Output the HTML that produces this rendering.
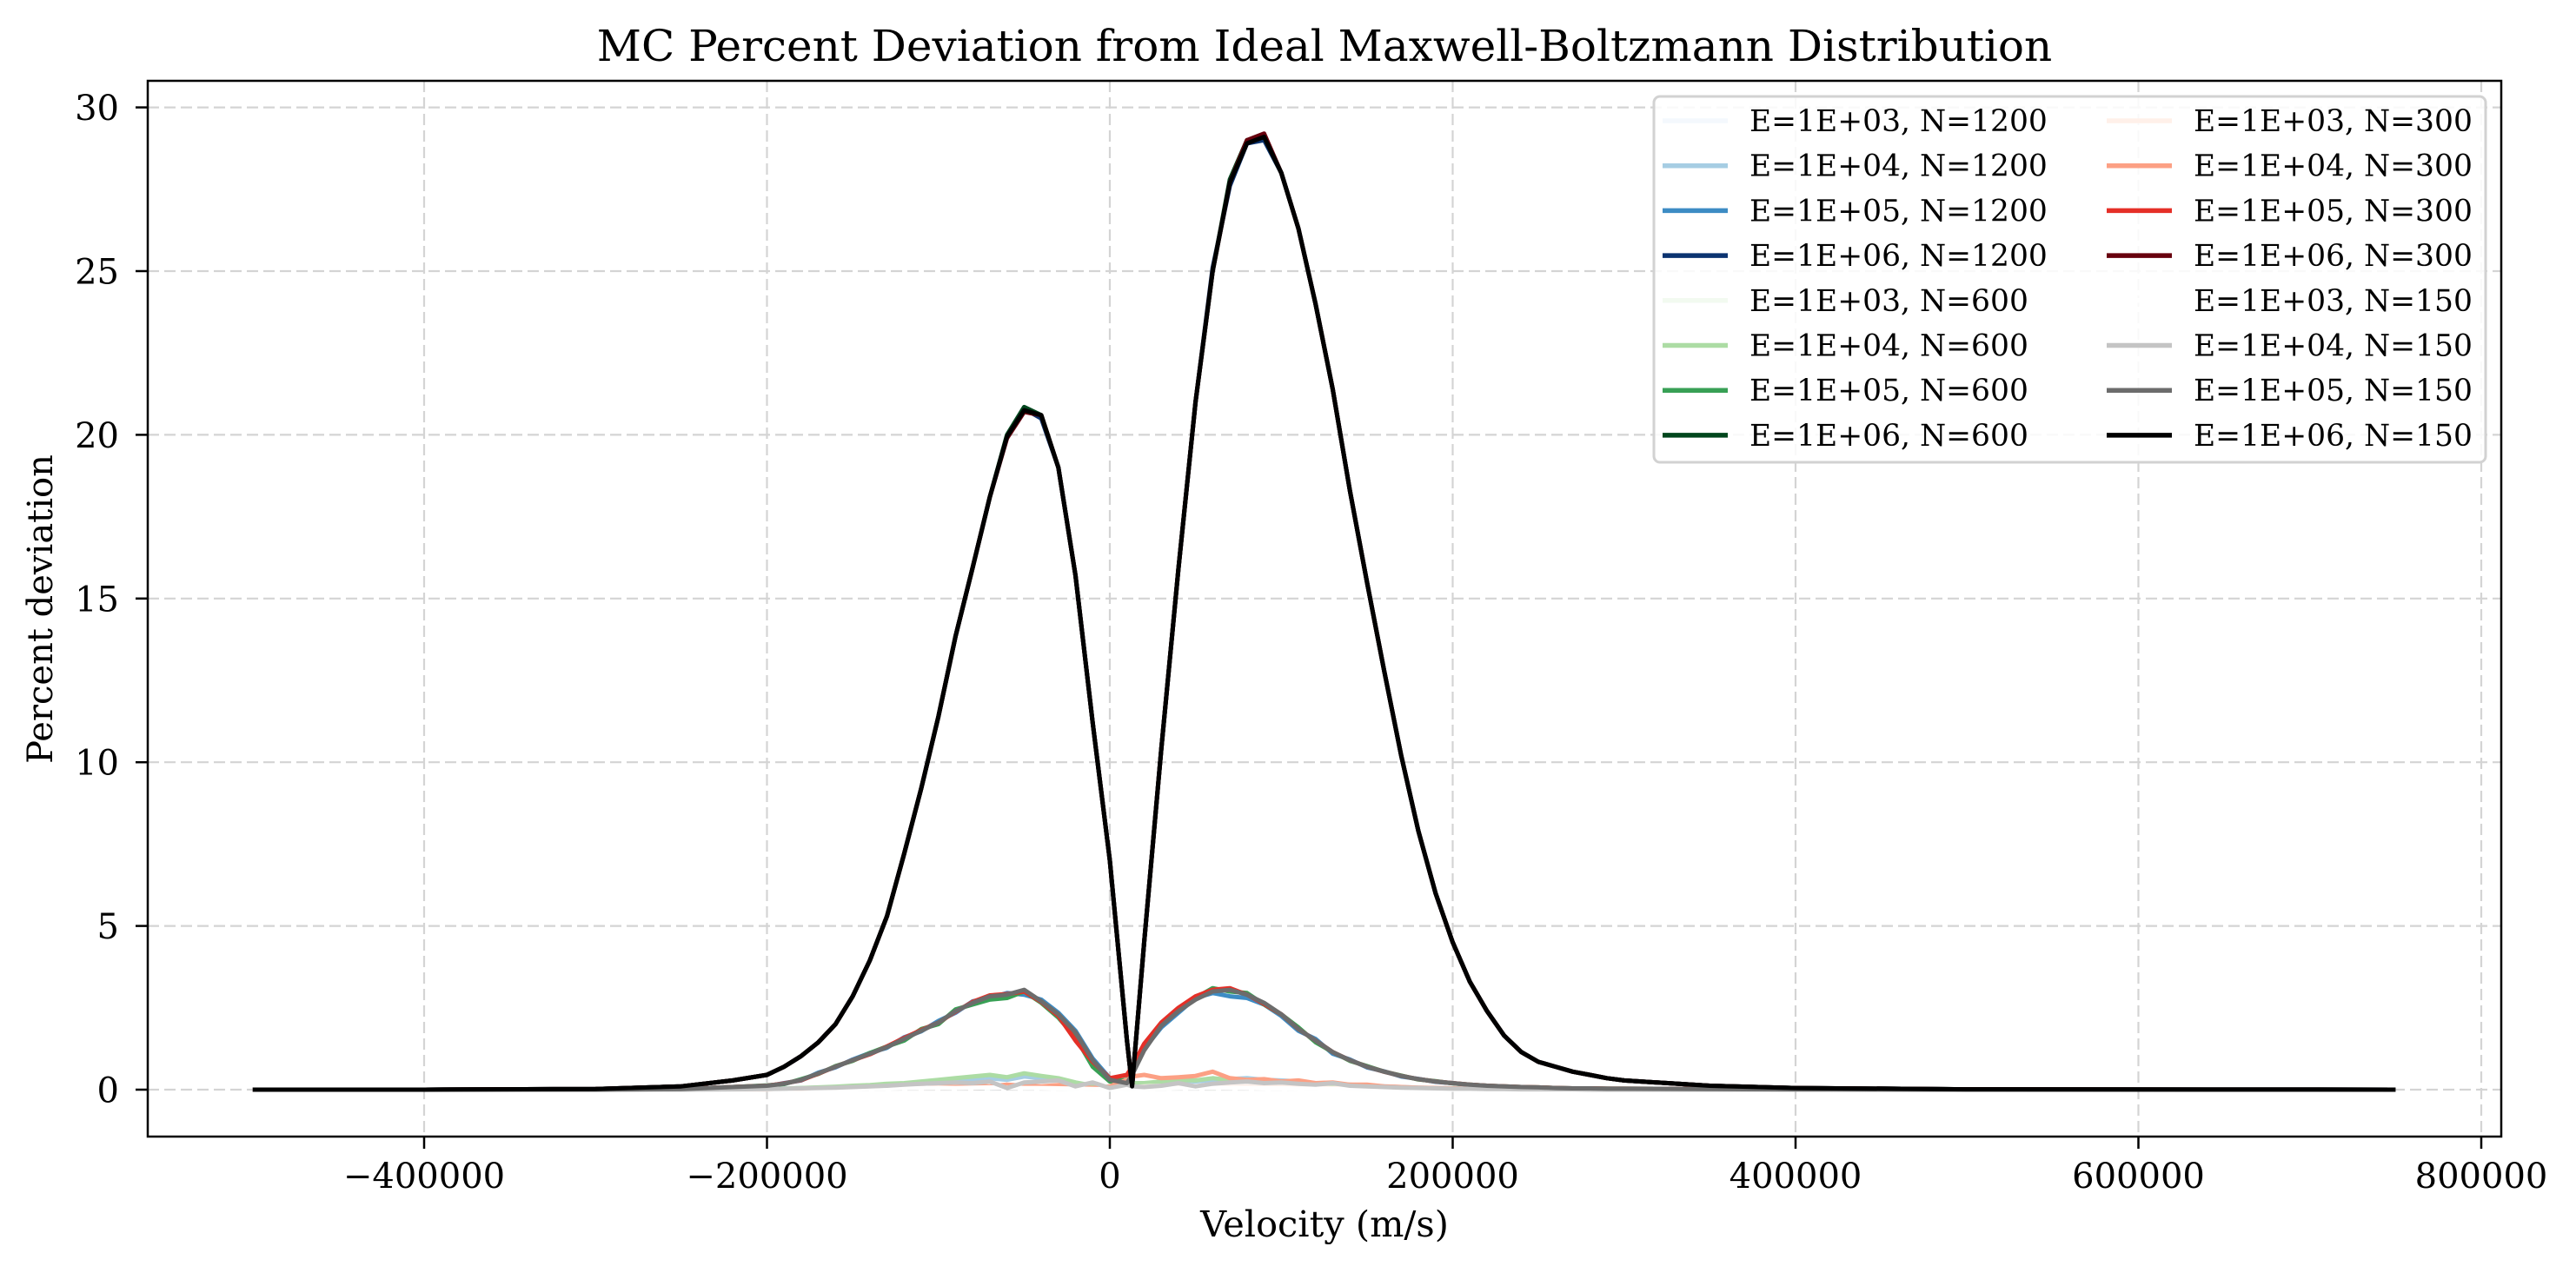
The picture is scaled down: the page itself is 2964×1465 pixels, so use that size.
<!DOCTYPE html>
<html><head><meta charset="utf-8">
<style>
html,body{margin:0;padding:0;background:#fff;}
svg{display:block;font-family:"DejaVu Serif","Liberation Serif",serif;}
</style></head>
<body>
<svg id="chart" width="2964" height="1465" viewBox="0 0 2964 1465" xmlns="http://www.w3.org/2000/svg">
<rect x="0" y="0" width="2964" height="1465" fill="#fff"/>
<g id="grid"></g>
<g id="series" clip-path="url(#plotclip)"></g>
<g id="axes"></g>
<g id="legend"></g>
<defs><clipPath id="plotclip"><rect x="170" y="93" width="2708" height="1215"/></clipPath></defs>
<text x="1524" y="70" text-anchor="middle" font-size="50" fill="#000">MC Percent Deviation from Ideal Maxwell-Boltzmann Distribution</text>
<text x="1524" y="1423" text-anchor="middle" font-size="41.5" fill="#000">Velocity (m/s)</text>
<text x="0" y="0" transform="translate(60,701) rotate(-90)" text-anchor="middle" font-size="40" fill="#000">Percent deviation</text>
</svg>
<script>
const velocities = [-500000,-400000,-300000,-250000,-220000,
-200000,-190000,-180000,-170000,-160000,-150000,-140000,-130000,-120000,-110000,-100000,-90000,-80000,-70000,-60000,-50000,-40000,-30000,-20000,-10000,0,
10000,13000,
20000,30000,40000,50000,60000,70000,80000,90000,100000,110000,120000,130000,140000,150000,160000,170000,180000,190000,200000,210000,220000,230000,240000,250000,260000,270000,280000,290000,300000,
350000,400000,500000,750000];
const xTicks = [-400000,-200000,0,200000,400000,600000,800000];
const xTickLabels = ["\u2212400000","\u2212200000","0","200000","400000","600000","800000"];
const yTicks = [0,5,10,15,20,25,30];
const yTickLabels = ["0","5","10","15","20","25","30"];
const seriesLabels = ["E=1E+03, N=1200","E=1E+04, N=1200","E=1E+05, N=1200","E=1E+06, N=1200",
"E=1E+03, N=600","E=1E+04, N=600","E=1E+05, N=600","E=1E+06, N=600",
"E=1E+03, N=300","E=1E+04, N=300","E=1E+05, N=300","E=1E+06, N=300",
"E=1E+03, N=150","E=1E+04, N=150","E=1E+05, N=150","E=1E+06, N=150"];
const seriesColors = ["#f4f8fd","#a6cde3","#3d8cc4","#0b3370",
"#f2faf0","#acdca4","#38a055","#01461d",
"#fff0e9","#fca084","#e52f27","#67000d",
"#ffffff","#c4c4c4","#6c6c6c","#000000"];

const e3n1200 = [0,0,0,0,0.01, 0.01,0.02,0.02,0.03,0.03,0.04,0.05,0.04,0.06,0.05,0.07,0.06,0.08,0.05,0.07,0.06,0.05,0.04,0.03,0.02,0.01, 0.02,0.03, 0.04,0.05,0.06,0.05,0.07,0.06,0.05,0.06,0.05,0.04,0.04,0.03,0.03,0.02,0.02,0.02,0.01,0.01,0.01,0.01,0,0,0,0,0,0,0,0,0, 0,0,0,0];
const e4n1200 = [0,0,0,0,0.01, 0.02,0.03,0.05,0.06,0.08,0.1,0.12,0.15,0.18,0.22,0.25,0.3,0.28,0.35,0.3,0.4,0.35,0.3,0.2,0.1,0.03, 0.05,0.1, 0.15,0.2,0.28,0.25,0.3,0.32,0.35,0.3,0.28,0.25,0.2,0.18,0.15,0.12,0.1,0.08,0.06,0.05,0.04,0.03,0.02,0.02,0.01,0.01,0.01,0,0,0,0, 0,0,0,0];
const e5n1200 = [0,0,0,0.02,0.08, 0.1,0.2,0.28,0.52,0.68,0.92,1.12,1.28,1.6,1.78,2.1,2.35,2.7,2.8,2.95,2.9,2.75,2.35,1.8,0.95,0.35, 0.25,0.5, 1.25,1.9,2.35,2.8,2.95,2.85,2.8,2.6,2.25,1.8,1.55,1.1,0.92,0.68,0.56,0.4,0.33,0.24,0.2,0.14,0.12,0.09,0.08,0.06,0.05,0.04,0.03,0.03,0.02, 0.02,0.01,0,0];
const e6n1200 = [0,0,0.02,0.1,0.28, 0.45,0.7,1.03,1.45,2.0,2.85,3.95,5.3,7.2,9.2,11.4,13.85,15.95,18.1,19.95,20.8,20.5,19.0,15.7,11.2,7.0, 1.5,0.1, 4.5,10.4,15.9,21.0,25.1,27.6,28.9,29.0,28.0,26.3,24.0,21.4,18.3,15.5,12.8,10.2,7.9,6.0,4.5,3.3,2.4,1.65,1.15,0.85,0.7,0.55,0.45,0.35,0.28, 0.12,0.05,0.01,0];
const e3n600 = [0,0,0,0,0.01, 0.01,0.01,0.02,0.03,0.04,0.03,0.05,0.06,0.05,0.07,0.06,0.08,0.07,0.06,0.08,0.05,0.06,0.04,0.03,0.02,0.01, 0.02,0.02, 0.03,0.04,0.05,0.06,0.05,0.06,0.07,0.05,0.04,0.05,0.03,0.03,0.02,0.02,0.02,0.01,0.01,0.01,0.01,0,0,0,0,0,0,0,0,0,0, 0,0,0,0];
const e4n600 = [0,0,0,0,0.01, 0.02,0.03,0.05,0.07,0.09,0.12,0.14,0.18,0.2,0.25,0.3,0.35,0.4,0.45,0.38,0.5,0.42,0.35,0.22,0.12,0.05, 0.15,0.2, 0.2,0.25,0.3,0.28,0.35,0.3,0.3,0.28,0.25,0.22,0.18,0.15,0.12,0.1,0.08,0.06,0.05,0.04,0.03,0.02,0.02,0.01,0.01,0.01,0,0,0,0,0, 0,0,0,0];
const e5n600 = [0,0,0,0.02,0.08, 0.13,0.17,0.32,0.48,0.72,0.88,1.12,1.32,1.5,1.85,2.0,2.45,2.6,2.75,2.8,3.0,2.65,2.2,1.6,0.7,0.25, 0.3,0.55, 1.3,2.0,2.45,2.8,3.1,3.0,2.95,2.6,2.3,1.9,1.45,1.15,0.88,0.72,0.55,0.43,0.31,0.26,0.19,0.15,0.12,0.1,0.08,0.07,0.05,0.04,0.04,0.03,0.03, 0.02,0.01,0,0];
const e6n600 = [0,0,0.02,0.1,0.28, 0.45,0.7,1.03,1.45,2.0,2.85,3.95,5.3,7.2,9.2,11.4,13.85,15.95,18.1,20.0,20.85,20.6,19.0,15.7,11.2,7.0, 1.5,0.1, 4.5,10.4,15.9,21.0,25.0,27.8,29.0,29.1,28.0,26.3,24.0,21.4,18.3,15.5,12.8,10.2,7.9,6.0,4.5,3.3,2.4,1.65,1.15,0.85,0.7,0.55,0.45,0.35,0.28, 0.12,0.05,0.01,0];
const e3n300 = [0,0,0,0,0.01, 0.01,0.02,0.02,0.03,0.03,0.04,0.04,0.05,0.06,0.05,0.06,0.07,0.06,0.08,0.07,0.06,0.05,0.05,0.04,0.03,0.02, 0.05,0.08, 0.1,0.12,0.1,0.09,0.11,0.08,0.1,0.07,0.08,0.06,0.05,0.05,0.04,0.03,0.03,0.02,0.02,0.01,0.01,0.01,0,0,0,0,0,0,0,0,0, 0,0,0,0];
const e4n300 = [0,0,0,0,0.01, 0.01,0.02,0.02,0.03,0.04,0.05,0.04,0.06,0.08,0.07,0.1,0.08,0.12,0.1,0.15,0.12,0.1,0.14,0.1,0.05,0.1, 0.3,0.4, 0.45,0.35,0.38,0.42,0.55,0.35,0.3,0.32,0.25,0.28,0.2,0.22,0.15,0.15,0.1,0.08,0.06,0.05,0.04,0.03,0.02,0.02,0.01,0.01,0.01,0,0,0,0, 0,0,0,0];
const e5n300 = [0,0,0,0.02,0.08, 0.12,0.19,0.29,0.49,0.7,0.9,1.08,1.32,1.58,1.82,2.05,2.38,2.68,2.88,2.92,3.0,2.68,2.25,1.5,0.85,0.35, 0.45,0.7, 1.4,2.05,2.5,2.85,3.05,3.1,2.9,2.62,2.3,1.85,1.5,1.15,0.9,0.7,0.55,0.42,0.32,0.25,0.2,0.15,0.12,0.1,0.08,0.07,0.05,0.04,0.04,0.03,0.03, 0.02,0.01,0,0];
const e6n300 = [0,0,0.02,0.1,0.28, 0.45,0.7,1.03,1.45,2.0,2.85,3.95,5.3,7.2,9.2,11.4,13.85,15.95,18.1,19.9,20.7,20.6,19.0,15.7,11.2,7.0, 1.5,0.1, 4.5,10.4,15.9,21.0,25.0,27.7,29.0,29.2,28.0,26.3,24.0,21.4,18.3,15.5,12.8,10.2,7.9,6.0,4.5,3.3,2.4,1.65,1.15,0.85,0.7,0.55,0.45,0.35,0.28, 0.12,0.05,0.01,0];
const e3n150 = [0,0,0,0,0, 0.01,0.01,0.02,0.02,0.03,0.03,0.04,0.04,0.05,0.05,0.06,0.05,0.06,0.07,0.06,0.05,0.05,0.04,0.03,0.02,0.01, 0.02,0.02, 0.03,0.04,0.05,0.05,0.06,0.05,0.05,0.04,0.04,0.03,0.03,0.02,0.02,0.02,0.01,0.01,0.01,0,0,0,0,0,0,0,0,0,0,0,0, 0,0,0,0];
const e4n150 = [0,0,0,0,0.01, 0.02,0.03,0.04,0.05,0.06,0.08,0.1,0.12,0.15,0.18,0.2,0.22,0.2,0.25,0.05,0.22,0.25,0.28,0.1,0.22,0.05, 0.15,0.1, 0.08,0.12,0.2,0.1,0.18,0.22,0.25,0.2,0.22,0.18,0.15,0.2,0.12,0.1,0.08,0.06,0.05,0.04,0.03,0.03,0.02,0.02,0.01,0.01,0.01,0.01,0,0,0, 0,0,0,0];
const e5n150 = [0,0,0,0.02,0.08, 0.12,0.18,0.3,0.5,0.7,0.9,1.1,1.3,1.55,1.8,2.05,2.4,2.65,2.85,2.9,3.05,2.7,2.3,1.75,0.9,0.3, 0.2,0.45, 1.2,1.95,2.4,2.75,3.0,3.05,2.9,2.65,2.3,1.85,1.5,1.15,0.9,0.7,0.55,0.42,0.32,0.25,0.2,0.15,0.12,0.1,0.08,0.07,0.05,0.04,0.04,0.03,0.03, 0.02,0.01,0,0];
const e6n150 = [0,0,0.02,0.1,0.28, 0.45,0.7,1.03,1.45,2.0,2.85,3.95,5.3,7.2,9.2,11.4,13.85,15.95,18.1,19.95,20.75,20.6,19.0,15.7,11.2,7.0, 1.5,0.1, 4.5,10.4,15.9,21.0,25.0,27.7,28.9,29.1,28.0,26.3,24.0,21.4,18.3,15.5,12.8,10.2,7.9,6.0,4.5,3.3,2.4,1.65,1.15,0.85,0.7,0.55,0.45,0.35,0.28, 0.12,0.05,0.01,0];

const seriesValues = [e3n1200,e4n1200,e5n1200,e6n1200,e3n600,e4n600,e5n600,e6n600,e3n300,e4n300,e5n300,e6n300,e3n150,e4n150,e5n150,e6n150];

const NS = "http://www.w3.org/2000/svg";
const PL = 170, PR = 2878, PT = 93, PB = 1308;
const X0 = 1277, XPER = 394.5 / 200000;
const Y0 = 1254, YPER = 37.68;
function xScale(v){ return X0 + v * XPER; }
function yScale(v){ return Y0 - v * YPER; }
function mk(tag, attrs, parent){
  const el = document.createElementNS(NS, tag);
  for (const k in attrs) el.setAttribute(k, attrs[k]);
  parent.appendChild(el);
  return el;
}
const grid = document.getElementById('grid');
const axes = document.getElementById('axes');
const seriesG = document.getElementById('series');
const legend = document.getElementById('legend');

xTicks.forEach((t, i) => {
  const x = xScale(t);
  const gl = mk('line', {x1:x, y1:PT, x2:x, y2:PB, stroke:'#d4d4d4', 'stroke-width':2.2, 'stroke-dasharray':'13 6'}, grid);
  
  
  const tk = mk('line', {x1:x, y1:PB, x2:x, y2:PB+14, stroke:'#000', 'stroke-width':2.5}, axes);
  
  
  const tl = mk('text', {x:x, y:1367, 'text-anchor':'middle', 'font-size':40, fill:'#000'}, axes);
  tl.textContent = xTickLabels[i];
  
  
});
yTicks.forEach((t, i) => {
  const y = yScale(t);
  const gl = mk('line', {x1:PL, y1:y, x2:PR, y2:y, stroke:'#d4d4d4', 'stroke-width':2.2, 'stroke-dasharray':'13 6'}, grid);
  
  
  const tk = mk('line', {x1:PL-14, y1:y, x2:PL, y2:y, stroke:'#000', 'stroke-width':2.5}, axes);
  
  
  const tl = mk('text', {x:137, y:y+14.5, 'text-anchor':'end', 'font-size':40, fill:'#000'}, axes);
  tl.textContent = yTickLabels[i];
  
  
});
const frame = mk('rect', {x:PL, y:PT, width:PR-PL, height:PB-PT, fill:'none', stroke:'#000', 'stroke-width':2.5}, axes);



seriesValues.forEach((vals, s) => {
  let d = '';
  vals.forEach((v, i) => { d += (i ? 'L' : 'M') + xScale(velocities[i]).toFixed(1) + ',' + yScale(v).toFixed(1); });
  const p = mk('path', {d:d, fill:'none', stroke:seriesColors[s], 'stroke-width':5, 'stroke-linejoin':'round', 'stroke-linecap':'butt'}, seriesG);
  
  
});

const box = mk('rect', {x:1903, y:111, width:957, height:421, rx:7, fill:'#fff', 'fill-opacity':0.85, stroke:'#d2d2d2', 'stroke-width':3}, legend);


seriesLabels.forEach((lab, s) => {
  const col = s < 8 ? 0 : 1;
  const row = s % 8;
  const cy = 139 + row * 51.7;
  const hx = col ? 2424 : 1913;
  const tx = col ? 2524 : 2013;
  const g = mk('g', {}, legend);
  
  
  const h = mk('line', {x1:hx, y1:cy, x2:hx+75, y2:cy, stroke:seriesColors[s], 'stroke-width':5.5}, g);
  
  
  const t = mk('text', {x:tx, y:cy+12, 'font-size':34.5, fill:'#000'}, g);
  t.textContent = lab;
  
  
});
</script>
</body></html>
